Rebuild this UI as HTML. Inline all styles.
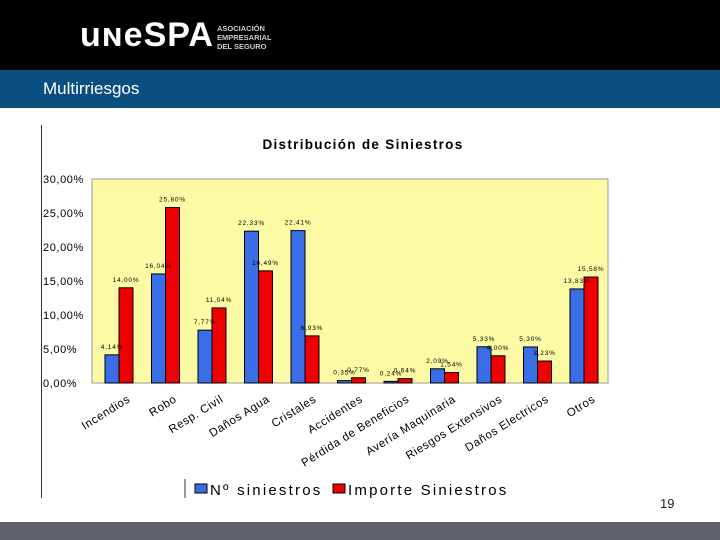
<!DOCTYPE html>
<html><head><meta charset="utf-8"><style>
body{margin:0;width:720px;height:540px;overflow:hidden;background:#fff;font-family:"Liberation Sans",sans-serif;position:relative}
#hdr{position:absolute;left:0;top:0;width:720px;height:70px;background:#000}
#band{position:absolute;left:0;top:70px;width:720px;height:38px;background:#0b4f80;color:#fff;font-size:17px;line-height:38px;padding-left:43px;box-sizing:border-box}
#foot{position:absolute;left:0;top:522px;width:720px;height:18px;background:#5f6369}
#pg{position:absolute;left:660px;top:496px;font-size:13px;color:#222}
#vline{position:absolute;left:41px;top:125px;width:1px;height:373px;background:#333}
</style></head><body>
<div id="hdr">
<div style="position:absolute;left:80px;top:18px;color:#fff;font-size:34px;font-weight:bold;letter-spacing:1px;line-height:34px">uɴeSPA</div>
<div style="position:absolute;left:217px;top:24px;color:#ccc;font-size:7.5px;line-height:9px;font-weight:bold">ASOCIACIÓN<br>EMPRESARIAL<br>DEL SEGURO</div>
</div>
<div id="band">Multirriesgos</div>
<div id="vline"></div>
<svg id="chart" width="720" height="540" style="position:absolute;left:0;top:0"></svg>
<div id="pg">19</div>
<div id="foot"></div>
<script>
const categories=["Incendios","Robo","Resp. Civil","Daños Agua","Cristales","Accidentes","Pérdida de Beneficios","Avería Maquinaria","Riesgos Extensivos","Daños Electricos","Otros"];
const countVals=[4.14,16.04,7.77,22.33,22.41,0.35,0.24,2.09,5.33,5.30,13.83];
const amountVals=[14.00,25.80,11.04,16.49,6.93,0.77,0.64,1.54,4.00,3.23,15.58];
const yTicks=[0,5,10,15,20,25,30];
const yTickLabels=["0,00%","5,00%","10,00%","15,00%","20,00%","25,00%","30,00%"];
const seriesNames=["Nº siniestros","Importe Siniestros"];
const NS="http://www.w3.org/2000/svg";
const svg=document.getElementById('chart');
const X0=92,X1=608,Y0=383,Y1=179;
const y=v=>Y0-(v/30)*(Y0-Y1);
const gw=46.5;
const x=i=>119+gw*i;
function mk(t,a){const e=document.createElementNS(NS,t);for(const k in a)e.setAttribute(k,a[k]);svg.appendChild(e);return e;}
const fmt=v=>v.toFixed(2).replace('.',',')+'%';
let t=mk('text',{x:363,y:149,'font-size':13.5,'font-weight':'bold','text-anchor':'middle',fill:'#000','letter-spacing':1.3});
t.textContent="Distribución de Siniestros";


let bg=mk('rect',{x:X0,y:Y1,width:X1-X0,height:Y0-Y1,fill:'#fcfaa4',stroke:'#999','stroke-width':1});


yTicks.forEach((v,i)=>{
 const l=mk('text',{x:43,y:y(v)+4,'font-size':11,fill:'#000','letter-spacing':0.6});
 l.textContent=yTickLabels[i];
 
 
});
const bw=14;
categories.forEach((c,i)=>{
 const cx=x(i);
 const b=mk('rect',{x:cx-bw,y:y(countVals[i]),width:bw,height:Y0-y(countVals[i]),fill:'#3a6ee8',stroke:'#000','stroke-width':1});
 
 
 const r=mk('rect',{x:cx,y:y(amountVals[i]),width:bw,height:Y0-y(amountVals[i]),fill:'#ee0000',stroke:'#000','stroke-width':1});
 
 
 const lb=mk('text',{x:cx-bw/2,y:y(countVals[i])-6,'font-size':6.5,'text-anchor':'middle',fill:'#000','letter-spacing':0.8});
 lb.textContent=fmt(countVals[i]);
 
 
 const lr=mk('text',{x:cx+bw/2,y:y(amountVals[i])-6,'font-size':6.5,'text-anchor':'middle',fill:'#000','letter-spacing':0.8});
 lr.textContent=fmt(amountVals[i]);
 
 
 const lx=cx+12, ly=Y0+18;
 const cl=mk('text',{x:lx,y:ly,'font-size':11.5,'text-anchor':'end',fill:'#000',transform:`rotate(-32 ${lx} ${ly})`,'letter-spacing':0.6});
 cl.textContent=c;
 
 
});
let lg=mk('line',{x1:185,y1:479,x2:185,y2:498,stroke:'#333'});


[[195,'#3a6ee8'],[333,'#ee0000']].forEach((p,i)=>{
 const s=mk('rect',{x:p[0],y:484,width:12,height:9,fill:p[1],stroke:'#000'});
 
 
 const lt=mk('text',{x:p[0]+15,y:495,'font-size':15,fill:'#000','letter-spacing':2.2});
 lt.textContent=seriesNames[i];
 
 
});
</script>
</body></html>
